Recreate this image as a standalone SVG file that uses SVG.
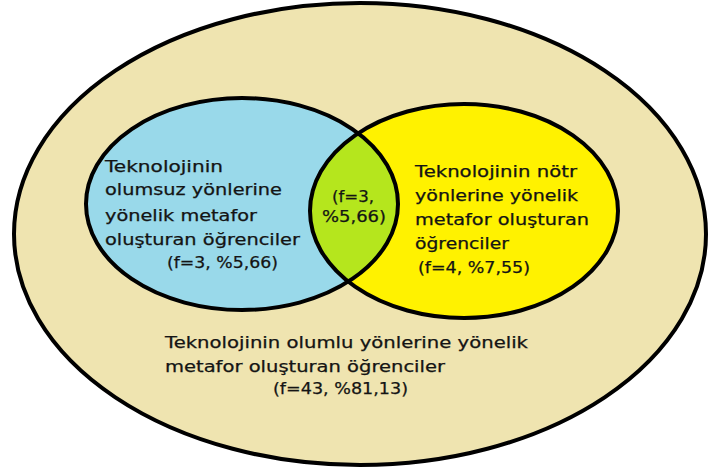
<svg xmlns="http://www.w3.org/2000/svg" width="709" height="473" viewBox="0 0 709 473">
<style>
.t{font-family:"DejaVu Sans","Verdana",sans-serif;font-size:15px;fill:#141414;stroke:#141414;stroke-width:0.25}
.ol{fill:none;stroke:#000;stroke-width:4}
</style>
<defs>
<clipPath id="blueClip"><ellipse cx="242" cy="204" rx="156" ry="106"/></clipPath>
</defs>
<g id="outer">
<ellipse cx="360" cy="234" rx="346" ry="231" fill="#EFE4B0" stroke="#000" stroke-width="4"/>
<text class="t" x="165" y="348" textLength="363" lengthAdjust="spacingAndGlyphs">Teknolojinin olumlu yönlerine yönelik</text>
<text class="t" x="165" y="372" textLength="280" lengthAdjust="spacingAndGlyphs">metafor oluşturan öğrenciler</text>
<text class="t" x="273" y="394" textLength="135" lengthAdjust="spacingAndGlyphs">(f=43, %81,13)</text>
</g>
<g id="negative">
<ellipse cx="242" cy="204" rx="156" ry="106" fill="#99D9EA"/>
</g>
<g id="neutral">
<ellipse cx="464" cy="211" rx="154" ry="107" fill="#FFF200"/>
</g>
<g id="overlap">
<ellipse cx="464" cy="211" rx="154" ry="107" fill="#B5E61D" clip-path="url(#blueClip)"/>
</g>
<g id="outlines">
<ellipse class="ol" cx="242" cy="204" rx="156" ry="106"/>
<ellipse class="ol" cx="464" cy="211" rx="154" ry="107"/>
</g>
<g id="negative-label">
<text class="t" x="105" y="172" textLength="118" lengthAdjust="spacingAndGlyphs">Teknolojinin</text>
<text class="t" x="105" y="195" textLength="177" lengthAdjust="spacingAndGlyphs">olumsuz yönlerine</text>
<text class="t" x="105" y="221" textLength="152" lengthAdjust="spacingAndGlyphs">yönelik metafor</text>
<text class="t" x="105" y="245" textLength="195" lengthAdjust="spacingAndGlyphs">oluşturan öğrenciler</text>
<text class="t" x="167" y="268" textLength="111" lengthAdjust="spacingAndGlyphs">(f=3, %5,66)</text>
</g>
<g id="overlap-label">
<text class="t" x="332" y="202" textLength="42" lengthAdjust="spacingAndGlyphs">(f=3,</text>
<text class="t" x="322" y="222" textLength="64" lengthAdjust="spacingAndGlyphs">%5,66)</text>
</g>
<g id="neutral-label">
<text class="t" x="415" y="177" textLength="162" lengthAdjust="spacingAndGlyphs">Teknolojinin nötr</text>
<text class="t" x="415" y="201" textLength="163" lengthAdjust="spacingAndGlyphs">yönlerine yönelik</text>
<text class="t" x="415" y="225" textLength="174" lengthAdjust="spacingAndGlyphs">metafor oluşturan</text>
<text class="t" x="415" y="249" textLength="94" lengthAdjust="spacingAndGlyphs">öğrenciler</text>
<text class="t" x="418" y="273" textLength="112" lengthAdjust="spacingAndGlyphs">(f=4, %7,55)</text>
</g>
</svg>
